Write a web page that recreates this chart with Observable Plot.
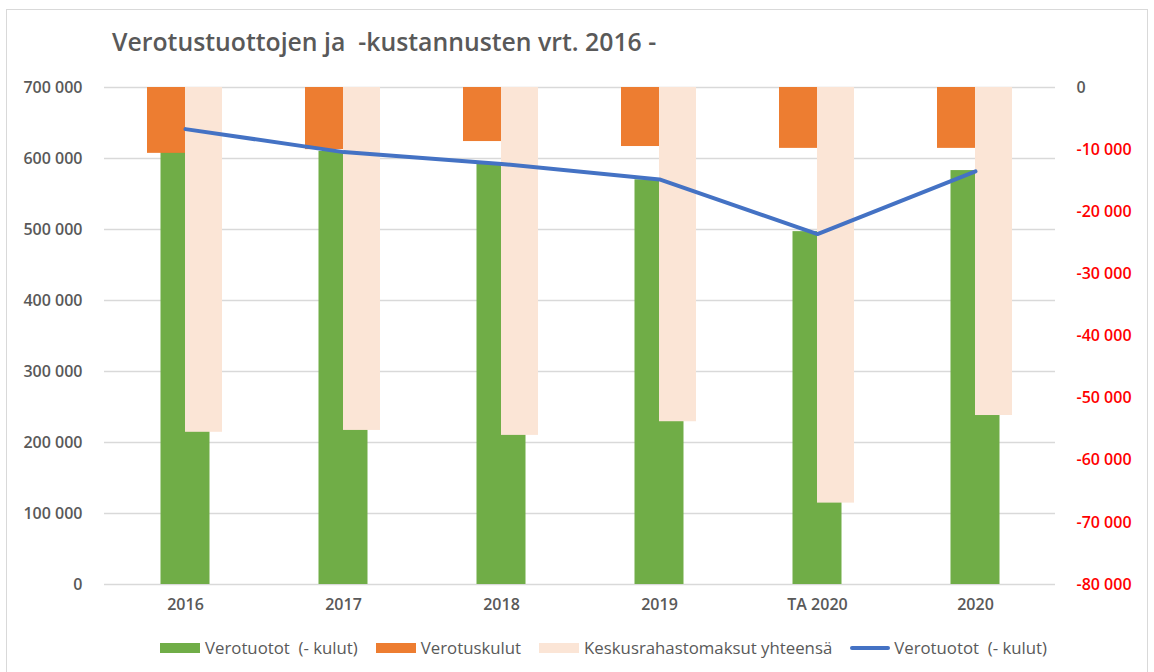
<!DOCTYPE html>
<html><head><meta charset="utf-8">
<script src="https://cdn.jsdelivr.net/npm/d3@7"></script>
<script src="https://cdn.jsdelivr.net/npm/@observablehq/plot@0.6"></script>
<style>
html,body{margin:0;padding:0;background:#fff;overflow:hidden;width:1154px;height:672px;}
#frame{position:absolute;left:6px;top:9px;width:1142px;height:700px;border:1px solid #D9D9D9;box-sizing:border-box;}
#title{position:absolute;left:112px;top:24px;font-family:"Open Sans",sans-serif;font-weight:600;font-size:24.8px;color:#595959;white-space:pre;}
#chart{position:absolute;left:0;top:60px;}
#legend{position:absolute;left:160px;top:636px;display:flex;align-items:center;font-family:"Open Sans",sans-serif;font-size:16.8px;color:#595959;white-space:pre;}
.item{display:flex;align-items:center;margin-right:18px;}
.sw{width:40px;height:10px;margin-right:5px;}
.ln{width:40px;height:4px;margin-right:4px;border-radius:2px;}
</style></head><body>
<div id="frame"></div>
<div id="title">Verotustuottojen ja  -kustannusten vrt. 2016 -</div>
<div id="chart"></div>
<div id="legend"></div>
<script>
const categories = ["2016", "2017", "2018", "2019", "TA 2020", "2020"];
const verotuotot = [610000, 610000, 594000, 570000, 497000, 583000];
const verotuskulut = [-10600, -10000, -8700, -9500, -9800, -9800];
const keskusrahastomaksut = [-55500, -55200, -56000, -53800, -66900, -52800];
const verotuototLine = [-6700, -10400, -12300, -14800, -23600, -13500];
const leftTicks = [0, 100000, 200000, 300000, 400000, 500000, 600000, 700000];
const rightTicks = [0, -10000, -20000, -30000, -40000, -50000, -60000, -70000, -80000];
const seriesNames = ["Verotuotot  (- kulut)", "Verotuskulut", "Keskusrahastomaksut yhteensä", "Verotuotot  (- kulut)"];
const colors = ["#70AD47", "#ED7D31", "#FBE5D6", "#4472C4"];

// secondary axis (right) mapped onto primary y scale
const LMAX = 700000, RMIN = -80000;
const conv = v => (v - RMIN) / (0 - RMIN) * LMAX;
const inv = y => y / LMAX * (0 - RMIN) + RMIN;
const fmt = v => d3.format(",")(Math.round(v)).replace(/,/g, " ").replace("−", "-");

const data = categories.map((c, i) => ({
  cat: c,
  tuotot: verotuotot[i],
  kulut: verotuskulut[i],
  keskus: keskusrahastomaksut[i],
  line: verotuototLine[i]
}));

const tickFont = {fontWeight: 600, fontSize: 16};

const chart = Plot.plot({
  width: 1154,
  height: 560,
  marginLeft: 104,
  marginRight: 99,
  marginTop: 27,
  marginBottom: 36,
  x: {type: "band", domain: categories, padding: 0, label: null},
  y: {domain: [0, LMAX], label: null},
  style: {fontFamily: "Open Sans, sans-serif", background: "transparent"},
  marks: [
    Plot.gridY(leftTicks, {stroke: "#D9D9D9", strokeOpacity: 1, strokeWidth: 1.5}),
    Plot.barY(data, {x: "cat", y1: 0, y2: "tuotot", fill: colors[0], insetLeft: 54.5, insetRight: 54.5}),
    Plot.barY(data, {x: "cat", y1: conv(0), y2: d => conv(d.kulut), fill: colors[1], insetLeft: 41, insetRight: 79}),
    Plot.barY(data, {x: "cat", y1: conv(0), y2: d => conv(d.keskus), fill: colors[2], insetLeft: 79, insetRight: 42}),
    Plot.line(data, {x: "cat", y: d => conv(d.line), stroke: colors[3], strokeWidth: 4, strokeLinejoin: "round", strokeLinecap: "round"}),
    Plot.axisY(leftTicks, {anchor: "left", tickSize: 0, tickPadding: 22, tickFormat: fmt, fill: "#595959", ...tickFont, label: null}),
    Plot.axisY(rightTicks.map(conv), {anchor: "right", tickSize: 0, tickPadding: 21, tickFormat: d => fmt(inv(d)), fill: d => (Math.round(inv(d)) === 0 ? "#595959" : "#FF0000"), ...tickFont, label: null}),
    Plot.axisX({tickSize: 0, tickPadding: 14, fill: "#595959", ...tickFont, label: null})
  ]
});
document.getElementById("chart").appendChild(chart);

const legend = document.getElementById("legend");
seriesNames.forEach((name, i) => {
  const item = document.createElement("div");
  item.className = "item";
  const sw = document.createElement("div");
  sw.className = i === 3 ? "ln" : "sw";
  sw.style.background = colors[i];
  const t = document.createElement("span");
  t.textContent = name;
  item.appendChild(sw);
  item.appendChild(t);
  legend.appendChild(item);
});
</script>
</body></html>
